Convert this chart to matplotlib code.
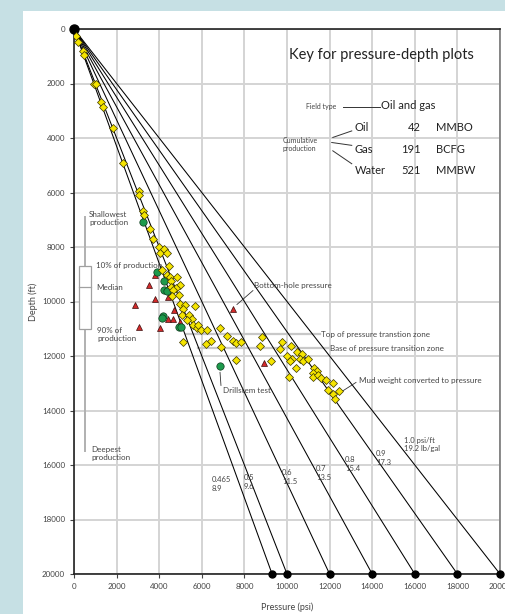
import matplotlib
matplotlib.use("Agg")
import matplotlib.pyplot as plt
from matplotlib.patches import Rectangle

plt.rcParams['font.family'] = ['Lato', 'DejaVu Sans']

# Pressure gradients (psi/ft) and equivalent mud weights (lb/gal)
gradients = [0.465, 0.5, 0.6, 0.7, 0.8, 0.9, 1.0]
mud_weights = ["8.9", "9.6", "11.5", "13.5", "15.4", "17.3", "19.2 lb/gal"]
grad_text = ["0.465", "0.5", "0.6", "0.7", "0.8", "0.9", "1.0 psi/ft"]
grad_label_x = [6480, 7980, 9770, 11360, 12720, 14180, 15490]
grad_label_y = [16700, 16630, 16440, 16290, 15970, 15750, 15240]
max_depth = 20000

# Mud weight converted to pressure (psi, ft)
mud_p = [100, 210, 400, 480, 960, 1030, 1290, 1360, 1850, 2290, 3050, 3070,
         3250, 3290, 3550, 3700, 4000, 4040, 4240, 4350, 4470, 4130, 4350, 4510,
         4820, 4540, 4550, 4980, 4790, 4630, 4590, 4940, 4980, 5230, 5100, 5670,
         5060, 5410, 5530, 5290, 5600, 5760, 5840, 5950, 6230, 6860, 7170, 6420,
         6200, 5130, 7480, 7610, 7840, 6920, 7610, 8840, 8730, 9750, 9670, 10190,
         10460, 10690, 10010, 10220, 10140, 10610, 10770, 11000, 9240, 10410,
         11280, 11390, 11210, 11240, 11470, 11580, 10110, 11830, 12150, 11940,
         12170, 12460, 12250]
mud_d = [270, 460, 800, 960, 2000, 2030, 2670, 2880, 3630, 4930, 5930, 6100,
         6670, 6810, 7340, 7690, 8010, 8220, 8060, 8220, 8710, 8850, 9010, 9110,
         9100, 9230, 9460, 9410, 9510, 9560, 9810, 9770, 10080, 10120, 10290, 10180,
         10480, 10480, 10630, 10690, 10880, 10960, 10850, 11060, 11030, 10980, 11260, 11450,
         11570, 11470, 11440, 11510, 11470, 11670, 12140, 11320, 11650, 11470, 11730, 11650,
         11860, 11940, 12010, 12120, 12200, 12120, 12200, 12120, 12200, 12450,
         12430, 12550, 12630, 12770, 12700, 12790, 12770, 12880, 12980, 13250,
         13380, 13290, 13590]

# Drillstem tests
dst_p = [3250, 3910, 4240, 4240, 4350, 4180, 4120, 4930, 5020, 6840]
dst_d = [7080, 8900, 9240, 9560, 9620, 10550, 10620, 10940, 10940, 12370]

# Bottom-hole pressures
bhp_p = [3820, 3510, 4400, 3800, 2860, 4680, 4410, 4660, 4980, 3050, 4050, 7480, 8920]
bhp_d = [9020, 9410, 9830, 9900, 10140, 10300, 10660, 10660, 10760, 10920, 10990, 10270, 12270]

# Depth of production (ft)
shallowest, p10, median, p90, deepest = 6900, 8700, 9450, 11000, 15500

# Pressure transition zone (ft)
transition_top, transition_base = 11210, 11720

# Cumulative production
products = ["Oil", "Gas", "Water"]
volumes = ["42", "191", "521"]
units = ["MMBO", "BCFG", "MMBW"]

fig = plt.figure(figsize=(5.05, 6.14), dpi=100)
fig.patch.set_facecolor("#c6e0e4")
fig.add_artist(Rectangle((23 / 505, 0), 1 - 23 / 505, 1 - 11 / 614,
                         transform=fig.transFigure, facecolor="white",
                         edgecolor="none", zorder=0))

ax = fig.add_axes([74 / 505, 40 / 614, 426 / 505, 545 / 614])
ax.set_xlim(0, 20000)
ax.set_ylim(20000, 0)
ax.set_xticks(range(0, 20001, 2000))
ax.set_yticks(range(0, 20001, 2000))
ax.grid(True, color="#d4d4d4", linewidth=1.4, zorder=0)
ax.set_axisbelow(True)
for side in ["left", "bottom", "top"]:
    ax.spines[side].set_color("#222222")
    ax.spines[side].set_linewidth(1.2)
ax.spines["right"].set_color("#777777")
ax.spines["right"].set_linewidth(1.2)
ax.tick_params(axis="both", labelsize=5.8, colors="#444444", length=3, width=0.8,
               direction="out")
ax.set_xlabel("Pressure (psi)", fontsize=6.5, color="#444444", labelpad=9)
ax.set_ylabel("Depth (ft)", fontsize=6.5, color="#444444", labelpad=3)

# Gradient lines
for g, t, mw, lx, ly in zip(gradients, grad_text, mud_weights, grad_label_x, grad_label_y):
    ax.plot([0, g * max_depth], [0, max_depth], color="black", linewidth=0.75, zorder=3)
    ax.plot([g * max_depth], [max_depth], "o", color="black", markersize=5,
            clip_on=False, zorder=6)
    ax.text(lx, ly, f"{t}\n{mw}", fontsize=5.5, color="#444444", va="center",
            ha="left", linespacing=1.25, zorder=5)
ax.plot([0], [0], "o", color="black", markersize=6.5, clip_on=False, zorder=6)

# Transition zone
ax.plot([5250, 11550], [transition_top] * 2, color="#c8c8c8", linewidth=1.6, zorder=2)
ax.plot([5800, 11950], [transition_base] * 2, color="#c8c8c8", linewidth=1.6, zorder=2)
ax.text(11600, transition_top, "Top of pressure transtion zone", fontsize=5.8,
        color="#444444", va="center")
ax.text(12000, transition_base, "Base of pressure transition zone", fontsize=5.8,
        color="#444444", va="center")

# Data points
ax.plot(bhp_p, bhp_d, "^", markerfacecolor="#d42a2a", markeredgecolor="#3a1010",
        markeredgewidth=0.5, markersize=4.8, linestyle="none", zorder=7)
ax.plot(dst_p, dst_d, "o", markerfacecolor="#1d9a4c", markeredgecolor="#0d3a1c",
        markeredgewidth=0.5, markersize=5.3, linestyle="none", zorder=7)
ax.plot(mud_p, mud_d, "D", markerfacecolor="#f5e400", markeredgecolor="#3a3500",
        markeredgewidth=0.5, markersize=4.5, linestyle="none", zorder=8)

# Callouts
ax.text(8450, 9410, "Bottom-hole pressure", fontsize=5.8, color="#444444", va="center")
ax.plot([8400, 7650], [9600, 10110], color="#333333", linewidth=0.6, zorder=6)
ax.text(7000, 13260, "Drillstem test", fontsize=5.8, color="#444444", va="center")
ax.plot([6855, 6900], [12600, 13080], color="#333333", linewidth=0.6, zorder=6)
ax.text(13380, 12890, "Mud weight converted to pressure", fontsize=5.8,
        color="#444444", va="center")
ax.plot([13240, 12580], [12970, 13300], color="#333333", linewidth=0.6, zorder=6)

# Production depth key
ax.plot([500, 500], [shallowest, deepest], color="#b0b0b0", linewidth=1.4, zorder=3)
ax.add_patch(Rectangle((240, p10), 560, p90 - p10, facecolor="white",
                       edgecolor="#a0a0a0", linewidth=0.9, zorder=4))
ax.plot([240, 800], [median, median], color="#a0a0a0", linewidth=0.9, zorder=5)
key_kw = dict(fontsize=5.8, color="#444444", va="center", ha="left", linespacing=1.2)
ax.text(700, shallowest + 60, "Shallowest\nproduction", **key_kw)
ax.text(1030, p10 - 20, "10% of production", **key_kw)
ax.text(1030, median + 40, "Median", **key_kw)
ax.text(1080, p90 + 210, "90% of\nproduction", **key_kw)
ax.text(800, deepest + 70, "Deepest\nproduction", **key_kw)

# Field key
ax.text(10090, 950, "Key for pressure-depth plots", fontsize=10.5, color="#222222",
        va="center", ha="left")
ax.text(10890, 2860, "Field type", fontsize=5, color="#444444", va="center")
ax.plot([12610, 14370], [2860, 2860], color="#333333", linewidth=0.7)
ax.text(14410, 2820, "Oil and gas", fontsize=8, color="#222222", va="center")
ax.text(9810, 4240, "Cumulative\nproduction", fontsize=5, color="#444444",
        va="center", linespacing=1.1)
for (x0, y0, x1, y1) in [(12150, 3980, 13040, 3740), (12100, 4165, 13040, 4270),
                         (12150, 4470, 13040, 4945)]:
    ax.plot([x0, x1], [y0, y1], color="#333333", linewidth=0.7)
for i, (name, vol, unit) in enumerate(zip(products, volumes, units)):
    y = 3615 + i * 790
    ax.text(13190, y, name, fontsize=8, color="#222222", va="center")
    ax.text(16290, y, vol, fontsize=8, color="#222222", va="center", ha="right")
    ax.text(16990, y, unit, fontsize=8, color="#222222", va="center")

fig.savefig("out.png", dpi=100)
